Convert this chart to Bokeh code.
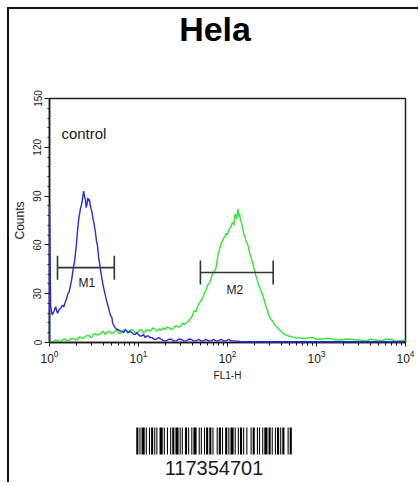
from bokeh.plotting import figure
from bokeh.models import Range1d, Label, FixedTicker, LogTicker
from bokeh.layouts import column
from bokeh.embed import file_html
from bokeh.resources import INLINE
from bokeh.core.properties import value

# ---------------- data ----------------
title_text = "Hela"
sample_note = "control"
x_label = "FL1-H"
y_label = "Counts"
barcode_number = "117354701"

y_ticks = [0, 30, 60, 90, 120, 150]
y_minor_ticks = [6, 12, 18, 24, 36, 42, 48, 54, 66, 72, 78, 84, 96, 102, 108, 114, 126, 132, 138, 144]

# control histogram (blue)
blue_fl1 = [1.0, 1.0, 1.03, 1.07, 1.12, 1.17, 1.23, 1.28, 1.33, 1.40,
            1.45, 1.51, 1.56, 1.61, 1.66, 1.72, 1.78, 1.83, 1.90, 1.96,
            2.01, 2.06, 2.13, 2.18, 2.22, 2.27, 2.32, 2.37, 2.42, 2.47,
            2.53, 2.58, 2.64, 2.69, 2.74, 2.81, 2.88, 2.94, 3.01, 3.08,
            3.15, 3.21, 3.28, 3.36, 3.45, 3.57, 3.65, 3.73, 3.81, 3.89,
            3.98, 4.08, 4.16, 4.24, 4.36, 4.47, 4.62, 4.72, 4.82, 4.93,
            5.04, 5.12, 5.21, 5.35, 5.49, 5.70, 5.93, 6.20, 6.53, 6.80,
            7.11, 7.40, 7.68, 8.05, 8.45, 8.80, 9.20, 9.55, 9.94, 10.4,
            10.9, 11.4, 11.9, 12.4, 12.9, 13.5, 14.2, 15.0, 15.8, 16.9,
            18.0, 19.2, 20.5, 21.9, 23.3, 24.9, 26.5, 28.2, 30.1, 32.1,
            34.3, 36.6, 39.0, 41.6, 44.4, 47.4, 50.5, 53.9, 57.4, 61.2,
            65.3, 69.7, 74.3, 79.3, 84.6, 90.2, 96.2, 103, 109, 120,
            142, 170, 237, 350, 664, 1200, 2400, 5000, 10000]
blue_count = [0, 85, 22, 17, 19, 22, 18, 20, 21, 23,
              22, 25, 27, 30, 31, 35, 39, 44, 49, 55,
              61, 68, 76, 79, 82, 84, 86, 90, 93, 90,
              88, 83, 85, 89, 87, 88, 84, 82, 80, 76,
              74, 71, 68, 63, 60, 52, 49, 45, 42, 39,
              36, 33, 31, 29, 26, 24, 21, 19, 17, 16,
              15, 12, 11, 10, 9, 8, 8, 7, 7, 6,
              8, 7, 6, 7, 6, 5, 5, 6, 5, 4,
              4, 5, 3, 4, 4, 3, 3, 2, 2, 3,
              2, 1, 1, 2, 2, 1, 1, 2, 2, 1,
              1, 2, 2, 1, 1, 2, 1, 1, 2, 1,
              1, 2, 1, 1, 2, 1, 1, 2, 1, 1,
              0.5, 0.5, 0.5, 0.5, 0.5, 0.5, 0.5, 0.5, 0.5]

# Hela histogram (green)
green_fl1 = [1.0, 1.05, 1.11, 1.17, 1.23, 1.29, 1.36, 1.43, 1.51, 1.59,
             1.68, 1.77, 1.86, 1.96, 2.06, 2.17, 2.28, 2.40, 2.53, 2.67,
             2.81, 2.96, 3.11, 3.28, 3.45, 3.63, 3.82, 4.02, 4.24, 4.46,
             4.70, 4.95, 5.21, 5.49, 5.78, 6.08, 6.41, 6.75, 7.11, 7.48,
             7.88, 8.30, 8.74, 9.20, 9.69, 10.2, 10.7, 11.3, 11.9, 12.5,
             13.2, 13.9, 14.6, 15.4, 16.2, 17.1, 18.0, 18.9, 19.9, 21.0,
             22.1, 23.3, 24.5, 25.8, 27.2, 28.6, 30.1, 31.4, 32.6, 34.2,
             35.8, 37.4, 39.0, 40.7, 42.4, 44.2, 46.0, 48.2, 50.5, 52.2,
             53.9, 55.6, 57.4, 59.3, 61.2, 63.2, 65.3, 67.5, 69.7, 72.0,
             74.3, 76.7, 79.3, 82.0, 84.6, 87.4, 90.2, 93.2, 96.2, 99.4,
             103, 106, 109, 112, 116, 118, 120, 122, 124, 127,
             131, 133, 135, 137, 140, 143, 146, 149, 152, 157,
             162, 167, 173, 179, 185, 191, 197, 202, 208, 212,
             217, 224, 231, 239, 247, 255, 262, 271, 281, 290,
             298, 308, 319, 329, 339, 351, 363, 379, 395, 411,
             427, 457, 487, 520, 554, 592, 631, 690, 757, 830,
             908, 1000, 1110, 1270, 1440, 1650, 1870, 2130, 2420, 2780,
             3140, 3600, 4070, 4650, 5280, 6000, 6840, 7600, 8330, 10000]
green_count = [1, 0.5, 0.5, 1.5, 1.5, 0.5, 1, 2, 2, 1,
               1.5, 2.5, 2.5, 1.5, 2, 3.5, 3, 2.5, 3.5, 4.5,
               4, 3, 5, 5.5, 4.5, 5, 6, 7, 5, 6,
               7, 5.5, 6, 7, 7.5, 5.5, 6, 7.5, 8, 6,
               6.5, 8, 7.5, 6, 6, 7.5, 8, 6, 6.5, 8,
               7, 7.5, 9, 8, 7, 8.5, 7.5, 9, 8, 9.5,
               9, 8, 8.5, 10, 10, 9.5, 10.5, 12, 11, 12,
               12.5, 14, 15, 17, 19.7, 19, 22, 24, 26, 27,
               29, 31, 32, 35, 36, 37, 39, 42, 43, 44,
               46, 51, 55, 58, 61, 62, 64, 65, 67, 66,
               69, 70, 71, 73, 74, 72, 76, 79, 78, 76,
               82, 79, 77, 79, 75, 74, 72, 70, 67, 65,
               62, 61, 58, 54, 52, 49, 46, 44, 41, 40,
               38, 35, 34, 31, 30, 27, 25, 22, 20, 17,
               16, 14, 13.5, 12, 11, 10, 9.4, 8, 7, 6,
               5.5, 4.5, 4, 3.5, 3.3, 2.5, 3, 2.5, 2.5, 3,
               3, 2, 2, 2.5, 2.5, 1.5, 1.5, 2, 2, 1.5,
               1.5, 1, 2, 1.5, 1, 2, 2, 1, 1, 1.5]

# gates
marker_names = ["M1", "M2"]
marker_lo = [1.23, 49.6]
marker_hi = [5.35, 326]
marker_level = [46, 43]
marker_label_x = [2.63, 121]
marker_label_y = [36.5, 32.5]

# barcode module widths (bar, space, bar, ...)
barcode_modules = [2, 1, 1, 1, 3, 1, 1, 2, 1, 1, 2, 1, 1, 1, 1, 2, 3, 1, 1, 2,
                   1, 2, 1, 1, 2, 1, 3, 1, 1, 1, 1, 2, 2, 1, 1, 2, 1, 1, 3, 2,
                   1, 1, 1, 2, 1, 1, 2, 1, 2, 1, 1, 3, 1, 1, 2, 1, 1, 2, 2, 1,
                   1, 1, 3, 1, 1, 2, 1, 1, 2, 1, 1, 2, 1, 3, 1, 1, 2, 2, 1, 1,
                   1, 2, 1, 1, 3, 1, 2, 1, 1, 2, 1, 1, 2, 1, 1, 1, 2, 3, 1, 1, 2]

# ---------------- styling ----------------
FONT = "Liberation Sans"
BLUE = "#2a2ae0"
GREEN = "#2eea2e"
INK = "#1a1a1a"
CAP = 7.4
W = 411
BL, BR = 39, 15          # shared left/right borders so all frames line up
FW = W - BL - BR         # frame width (357)

# title strip
TH = 50
t = figure(width=W, height=TH, x_range=Range1d(0, FW), y_range=Range1d(TH, 0),
           output_backend="svg", toolbar_location=None, title=None,
           x_axis_location=None, y_axis_location=None,
           min_border_left=BL, min_border_right=BR, min_border_top=0, min_border_bottom=0)
t.grid.visible = False
t.outline_line_color = None
t.add_layout(Label(x=166, y=19, text=title_text, text_font=FONT,
                   text_font_size="34px", text_font_style="bold", text_color="black",
                   text_align="center", text_baseline="alphabetic"))

# main histogram
p = figure(width=W, height=341, x_axis_type="log",
           x_range=Range1d(1, 10000), y_range=Range1d(0, 150),
           output_backend="svg", toolbar_location=None,
           min_border_left=BL, min_border_right=BR,
           min_border_top=39, min_border_bottom=58)
p.xgrid.visible = False
p.ygrid.visible = False
p.background_fill_color = "white"
p.border_fill_color = "white"
p.outline_line_color = "#222222"
p.outline_line_width = 1.5

p.xaxis.ticker = LogTicker(num_minor_ticks=10, desired_num_ticks=5)
p.yaxis.ticker = FixedTicker(ticks=y_ticks, minor_ticks=y_minor_ticks)
for ax in (p.xaxis[0], p.yaxis[0]):
    ax.axis_line_color = INK
    ax.axis_line_width = 1.5
    ax.major_tick_line_color = INK
    ax.minor_tick_line_color = INK
    ax.major_tick_in = 0
    ax.minor_tick_in = 0
    ax.major_label_text_font = FONT
    ax.major_label_text_color = INK
    ax.axis_label_text_font = FONT
    ax.axis_label_text_font_style = "normal"
    ax.axis_label_text_color = INK

p.xaxis.major_tick_out = 4
p.xaxis.minor_tick_out = 3
p.xaxis.major_label_standoff = 3
p.xaxis.major_label_text_font_size = "12px"
p.xaxis.axis_label = x_label
p.xaxis.axis_label_text_font_size = "10px"
p.xaxis.axis_label_standoff = 4

p.yaxis.major_tick_out = 5
p.yaxis.minor_tick_out = 2
p.yaxis.major_label_standoff = 3
p.yaxis.major_label_orientation = "vertical"
p.yaxis.major_label_text_font_size = "10px"
p.yaxis.axis_label = y_label
p.yaxis.axis_label_text_font_size = "12px"
p.yaxis.axis_label_standoff = 4

p.line(green_fl1, green_count, line_color=GREEN, line_width=1.4)
p.line(blue_fl1, blue_count, line_color=BLUE, line_width=1.4, level="overlay")

# gate bars
p.segment(x0=marker_lo, y0=marker_level, x1=marker_hi, y1=marker_level,
          line_color="#333333", line_width=1.6)
cap_x = marker_lo + marker_hi
cap_lvl = marker_level + marker_level
p.segment(x0=cap_x, y0=[v - CAP for v in cap_lvl], x1=cap_x, y1=[v + CAP for v in cap_lvl],
          line_color="#333333", line_width=1.6)
p.text(x=marker_label_x, y=marker_label_y, text=marker_names,
       text_font=value(FONT), text_font_size="12px", text_color=INK,
       text_align="center", text_baseline="alphabetic")

p.add_layout(Label(x=1.36, y=128.7, text=sample_note, text_font=FONT,
                   text_font_size="15px", text_color=INK,
                   text_align="left", text_baseline="alphabetic"))

# ---------------- barcode ----------------
edges = [0]
for w in barcode_modules:
    edges.append(edges[-1] + w)
n_mod = edges[-1]
bar_left = edges[0:-1:2]
bar_right = edges[1::2]
px_per_mod = 156.0 / n_mod
x0 = -87 / px_per_mod
x1 = n_mod + (FW - 243) / px_per_mod

BH = 84
b = figure(width=W, height=BH, x_range=Range1d(x0, x1), y_range=Range1d(BH, 0),
           output_backend="svg", toolbar_location=None, title=None,
           x_axis_location=None, y_axis_location=None,
           min_border_left=BL, min_border_right=BR, min_border_top=0, min_border_bottom=0)
b.grid.visible = False
b.outline_line_color = None
b.border_fill_color = "white"
b.quad(left=bar_left, right=bar_right, top=27, bottom=54,
       fill_color="black", line_color=None)
b.add_layout(Label(x=n_mod / 2, y=67, text=barcode_number, text_font=FONT,
                   text_font_size="20px", text_color=INK,
                   text_align="center", text_baseline="alphabetic"))

layout = column(t, p, b, spacing=0,
                styles={"margin": "9px 0 0 9px", "box-shadow": "-2px -2px 0 0 #111"})

open("out.html", "w").write(file_html(layout, INLINE))
